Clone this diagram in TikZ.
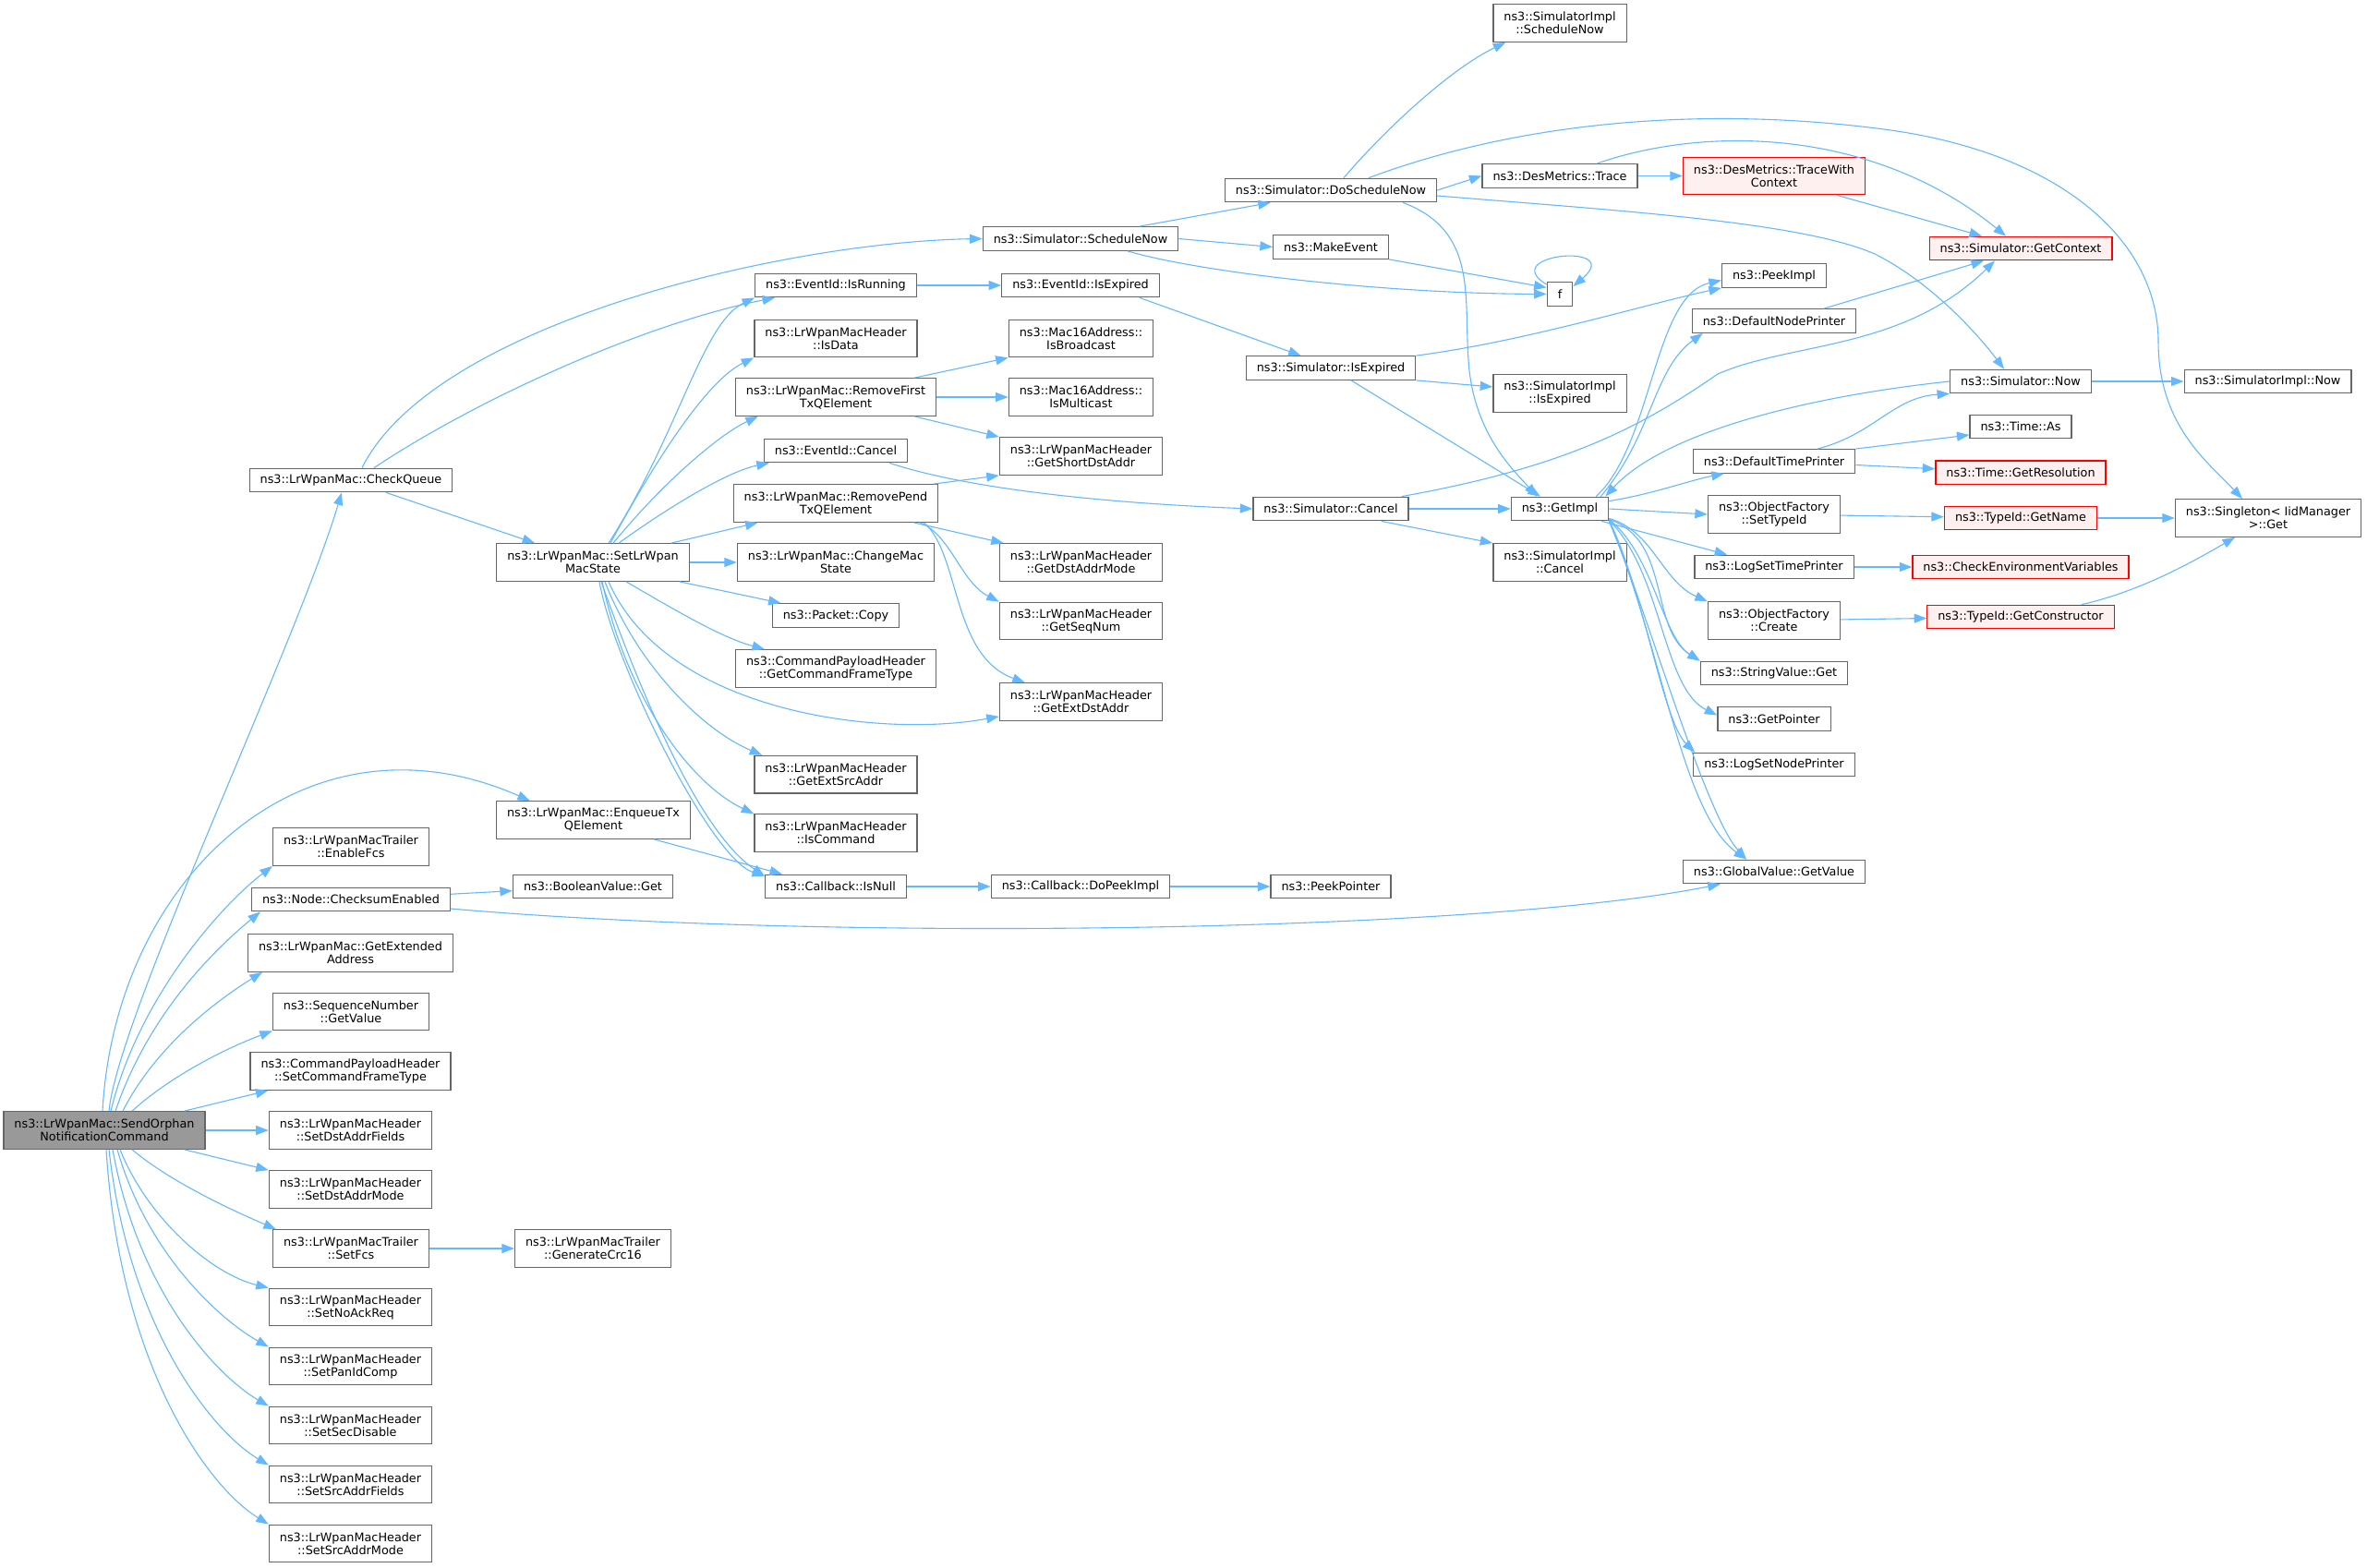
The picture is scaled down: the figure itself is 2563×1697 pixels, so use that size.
\documentclass[tikz,border=0pt]{standalone}
\usepackage{fontspec}
\setmainfont{DejaVu Sans}
\usetikzlibrary{arrows.meta}
\definecolor{callblue}{HTML}{63B8FF}
\definecolor{boxgray}{HTML}{666666}
\definecolor{rootgray}{HTML}{999999}
\definecolor{truncfill}{HTML}{FFF0F0}
\newcommand{\fs}{\fontsize{12.8}{14}\selectfont}

\begin{document}
\begin{tikzpicture}[x=1pt,y=-1pt,
   fnbox/.style={draw=boxgray,line width=1.3pt,fill=white,font=\fs,align=center,
                 inner xsep=11.5pt,inner ysep=2pt,minimum height=25.5pt},
   fnbox2/.style={fnbox,minimum height=40.5pt},
   trunc/.style={draw=red,fill=truncfill},
   root/.style={fill=rootgray},
   callarrow/.style={callblue,line width=1.1pt,-{Triangle[length=13.5pt,width=10pt]}}]
   \useasboundingbox (0,0) rectangle (2563,1697);

   \node[fnbox2,root] (send)     at ( 113.0,1224.0) {ns3::LrWpanMac::SendOrphan\\NotificationCommand};
   \node[fnbox]       (chkq)     at ( 380.0, 520.0) {ns3::LrWpanMac::CheckQueue};
   \node[fnbox2]      (enfcs)    at ( 380.0, 917.0) {ns3::LrWpanMacTrailer\\::EnableFcs};
   \node[fnbox]       (cksum)    at ( 380.0, 974.0) {ns3::Node::ChecksumEnabled};
   \node[fnbox2]      (getext)   at ( 379.5,1032.0) {ns3::LrWpanMac::GetExtended\\Address};
   \node[fnbox2]      (seqv)     at ( 380.0,1095.5) {ns3::SequenceNumber\\::GetValue};
   \node[fnbox2]      (setcft)   at ( 379.5,1160.0) {ns3::CommandPayloadHeader\\::SetCommandFrameType};
   \node[fnbox2]      (setdaf)   at ( 379.5,1224.0) {ns3::LrWpanMacHeader\\::SetDstAddrFields};
   \node[fnbox2]      (setdam)   at ( 379.5,1288.0) {ns3::LrWpanMacHeader\\::SetDstAddrMode};
   \node[fnbox2]      (setfcs)   at ( 380.0,1352.0) {ns3::LrWpanMacTrailer\\::SetFcs};
   \node[fnbox2]      (setnoack) at ( 379.5,1415.5) {ns3::LrWpanMacHeader\\::SetNoAckReq};
   \node[fnbox2]      (setpan)   at ( 379.5,1479.5) {ns3::LrWpanMacHeader\\::SetPanIdComp};
   \node[fnbox2]      (setsec)   at ( 379.5,1543.5) {ns3::LrWpanMacHeader\\::SetSecDisable};
   \node[fnbox2]      (setsaf)   at ( 379.5,1607.5) {ns3::LrWpanMacHeader\\::SetSrcAddrFields};
   \node[fnbox2]      (setsam)   at ( 379.5,1671.5) {ns3::LrWpanMacHeader\\::SetSrcAddrMode};

   \node[fnbox2]      (setstate) at ( 642.0, 609.0) {ns3::LrWpanMac::SetLrWpan\\MacState};
   \node[fnbox2]      (enq)      at ( 642.5, 888.0) {ns3::LrWpanMac::EnqueueTx\\QElement};
   \node[fnbox]       (boolget)  at ( 642.0, 960.0) {ns3::BooleanValue::Get};
   \node[fnbox2]      (crc)      at ( 642.0,1352.0) {ns3::LrWpanMacTrailer\\::GenerateCrc16};

   \node[fnbox]       (isrun)    at ( 905.0, 309.0) {ns3::EventId::IsRunning};
   \node[fnbox2]      (isdata)   at ( 905.0, 366.5) {ns3::LrWpanMacHeader\\::IsData};
   \node[fnbox2]      (rmfirst)  at ( 905.0, 430.0) {ns3::LrWpanMac::RemoveFirst\\TxQElement};
   \node[fnbox]       (evcancel) at ( 905.0, 488.0) {ns3::EventId::Cancel};
   \node[fnbox2]      (rmpend)   at ( 905.0, 545.0) {ns3::LrWpanMac::RemovePend\\TxQElement};
   \node[fnbox2]      (chstate)  at ( 905.0, 609.0) {ns3::LrWpanMac::ChangeMac\\State};
   \node[fnbox]       (pcopy)    at ( 905.0, 666.5) {ns3::Packet::Copy};
   \node[fnbox2]      (getcft)   at ( 905.0, 724.0) {ns3::CommandPayloadHeader\\::GetCommandFrameType};
   \node[fnbox2]      (getesa)   at ( 905.0, 838.7) {ns3::LrWpanMacHeader\\::GetExtSrcAddr};
   \node[fnbox2]      (iscmd)    at ( 905.0, 902.0) {ns3::LrWpanMacHeader\\::IsCommand};
   \node[fnbox]       (isnull)   at ( 905.0, 960.0) {ns3::Callback::IsNull};

   \node[fnbox]       (schnow)   at (1170.0, 258.5) {ns3::Simulator::ScheduleNow};
   \node[fnbox]       (evexp)    at (1170.0, 309.0) {ns3::EventId::IsExpired};
   \node[fnbox2]      (isbc)     at (1170.5, 366.5) {ns3::Mac16Address::\\IsBroadcast};
   \node[fnbox2]      (ismc)     at (1170.5, 430.0) {ns3::Mac16Address::\\IsMulticast};
   \node[fnbox2]      (getsda)   at (1170.5, 494.0) {ns3::LrWpanMacHeader\\::GetShortDstAddr};
   \node[fnbox2]      (getdam)   at (1170.5, 609.0) {ns3::LrWpanMacHeader\\::GetDstAddrMode};
   \node[fnbox2]      (getseq)   at (1170.5, 672.5) {ns3::LrWpanMacHeader\\::GetSeqNum};
   \node[fnbox2]      (geteda)   at (1170.5, 760.0) {ns3::LrWpanMacHeader\\::GetExtDstAddr};
   \node[fnbox]       (dopeek)   at (1170.0, 960.0) {ns3::Callback::DoPeekImpl};

   \node[fnbox]       (dosch)    at (1441.0, 206.0) {ns3::Simulator::DoScheduleNow};
   \node[fnbox]       (mkev)     at (1441.0, 267.5) {ns3::MakeEvent};
   \node[fnbox]       (simexp)   at (1441.0, 398.5) {ns3::Simulator::IsExpired};
   \node[fnbox]       (simcancel)at (1441.0, 551.0) {ns3::Simulator::Cancel};
   \node[fnbox]       (peekptr)  at (1441.0, 960.0) {ns3::PeekPointer};

   \node[fnbox2]      (implsch)  at (1689.0,  25.0) {ns3::SimulatorImpl\\::ScheduleNow};
   \node[fnbox]       (trace)    at (1689.0, 190.5) {ns3::DesMetrics::Trace};
   \node[fnbox]       (f)        at (1689.0, 318.4) {f};
   \node[fnbox2]      (implexp)  at (1689.0, 426.0) {ns3::SimulatorImpl\\::IsExpired};
   \node[fnbox]       (getimpl)  at (1689.0, 551.0) {ns3::GetImpl};
   \node[fnbox2]      (implcancel) at (1689.0, 609.0) {ns3::SimulatorImpl\\::Cancel};

   \node[fnbox2,trunc](trwc)     at (1921.0, 190.5) {ns3::DesMetrics::TraceWith\\Context};
   \node[fnbox]       (peek)     at (1921.0, 298.5) {ns3::PeekImpl};
   \node[fnbox]       (dnp)      at (1921.0, 347.5) {ns3::DefaultNodePrinter};
   \node[fnbox]       (dtp)      at (1921.0, 499.5) {ns3::DefaultTimePrinter};
   \node[fnbox2]      (settid)   at (1921.0, 557.0) {ns3::ObjectFactory\\::SetTypeId};
   \node[fnbox]       (logtp)    at (1921.0, 614.0) {ns3::LogSetTimePrinter};
   \node[fnbox2]      (create)   at (1921.0, 672.0) {ns3::ObjectFactory\\::Create};
   \node[fnbox]       (strget)   at (1921.0, 729.0) {ns3::StringValue::Get};
   \node[fnbox]       (getptr)   at (1921.0, 778.5) {ns3::GetPointer};
   \node[fnbox]       (lognp)    at (1921.0, 828.0) {ns3::LogSetNodePrinter};
   \node[fnbox]       (gvget)    at (1921.0, 944.0) {ns3::GlobalValue::GetValue};

   \node[fnbox,trunc] (getctx)   at (2188.0, 269.0) {ns3::Simulator::GetContext};
   \node[fnbox]       (now)      at (2188.0, 413.0) {ns3::Simulator::Now};
   \node[fnbox]       (timeas)   at (2188.0, 462.0) {ns3::Time::As};
   \node[fnbox,trunc] (getres)   at (2188.0, 511.7) {ns3::Time::GetResolution};
   \node[fnbox,trunc] (getname)  at (2188.0, 561.0) {ns3::TypeId::GetName};
   \node[fnbox,trunc] (checkenv) at (2188.0, 614.0) {ns3::CheckEnvironmentVariables};
   \node[fnbox,trunc] (getctor)  at (2188.0, 668.0) {ns3::TypeId::GetConstructor};

   \node[fnbox]       (implnow)  at (2455.5, 413.0) {ns3::SimulatorImpl::Now};
   \node[fnbox2]      (singleton)at (2456.0, 561.0) {ns3::Singleton\textless{} IidManager\\\textgreater::Get};

   \draw[callarrow] ([xshift= 5pt]send.north) .. controls ( 128,1100) and ( 320, 700) .. ([xshift=-10pt]chkq.south);
   \draw[callarrow] ([xshift=-2pt]send.north) .. controls ( 125, 950) and ( 330, 760) .. ([xshift=37pt]enq.north west);
   \draw[callarrow] ([xshift= 7pt]send.north) .. controls ( 150,1080) and ( 240, 980) .. (enfcs.south west);
   \draw[callarrow] ([xshift=12pt]send.north) .. controls ( 160,1100) and ( 230,1030) .. ([xshift=10pt]cksum.south west);
   \draw[callarrow] ([xshift=20pt]send.north) .. controls ( 170,1130) and ( 240,1080) .. ([xshift=16pt]getext.south west);
   \draw[callarrow] ([xshift=30pt]send.north) .. controls ( 185,1165) and ( 245,1135) .. (seqv.south west);
   \draw[callarrow] ([xshift=-23pt]send.north east) -- ([xshift=20pt]setcft.south west);
   \draw[callarrow] (send.east) -- (setdaf.west);
   \draw[callarrow] ([xshift=-23pt]send.south east) -- (setdam.north west);
   \draw[callarrow] ([xshift=30pt]send.south) .. controls ( 185,1280) and ( 250,1310) .. ([xshift=4pt]setfcs.north west);
   \draw[callarrow] ([xshift=17pt]send.south) .. controls ( 160,1320) and ( 230,1380) .. (setnoack.north west);
   \draw[callarrow] ([xshift=14pt]send.south) .. controls ( 160,1360) and ( 240,1430) .. (setpan.north west);
   \draw[callarrow] ([xshift= 9pt]send.south) .. controls ( 150,1400) and ( 235,1490) .. (setsec.north west);
   \draw[callarrow] ([xshift= 5pt]send.south) .. controls ( 140,1440) and ( 230,1550) .. (setsaf.north west);
   \draw[callarrow] ([xshift= 2pt]send.south) .. controls ( 130,1480) and ( 225,1610) .. (setsam.north west);

   \draw[callarrow] ([xshift=12pt]chkq.north) .. controls ( 470, 350) and ( 850, 262) .. (schnow.west);
   \draw[callarrow] ([xshift=25pt]chkq.north) .. controls ( 520, 430) and ( 700, 350) .. ([xshift=22pt]isrun.south west);
   \draw[callarrow] ([xshift=38pt]chkq.south) -- ([xshift=42pt]setstate.north west);

   \draw[callarrow] ([xshift=17pt]setstate.north) .. controls ( 735, 470) and ( 760, 350) .. (isrun.south west);
   \draw[callarrow] ([xshift=19pt]setstate.north) .. controls ( 720, 480) and ( 770, 410) .. (isdata.south west);
   \draw[callarrow] ([xshift=22pt]setstate.north) .. controls ( 720, 520) and ( 780, 470) .. ([xshift=25pt]rmfirst.south west);
   \draw[callarrow] ([xshift=28pt]setstate.north) .. controls ( 730, 545) and ( 790, 510) .. ([xshift=6pt]evcancel.south west);
   \draw[callarrow] ([xshift=-20pt]setstate.north east) -- ([xshift=27pt]rmpend.south west);
   \draw[callarrow] (setstate.east) -- (chstate.west);
   \draw[callarrow] ([xshift=-11pt]setstate.south east) -- ([xshift=10pt]pcopy.north west);
   \draw[callarrow] ([xshift=36pt]setstate.south) .. controls ( 730, 660) and ( 780, 690) .. ([xshift=32pt]getcft.north west);
   \draw[callarrow] ([xshift=17pt]setstate.south) .. controls ( 720, 770) and ( 950, 800) .. ([yshift=5pt]geteda.south west);
   \draw[callarrow] ([xshift=13pt]setstate.south) .. controls ( 690, 720) and ( 760, 790) .. ([xshift=9pt]getesa.north west);
   \draw[callarrow] ([xshift=10pt]setstate.south) .. controls ( 680, 760) and ( 750, 850) .. (iscmd.north west);
   \draw[callarrow] ([xshift= 7pt]setstate.south) .. controls ( 665, 720) and ( 770, 930) .. ([yshift=-2pt]isnull.north west);
   \draw[callarrow] ([xshift= 9pt]setstate.south) .. controls ( 690, 740) and ( 755, 900) .. ([yshift=-2pt]isnull.north west);

   \draw[callarrow] ([xshift=-40pt]enq.south east) -- ([xshift=19pt]isnull.north west);
   \draw[callarrow] (cksum) -- (boolget);
   \draw[callarrow] ([yshift=-10pt]cksum.east) .. controls ( 900,1020) and (1600,1010) .. ([xshift=41pt]gvget.south west);
   \draw[callarrow] (isnull) -- (dopeek);
   \draw[callarrow] (dopeek) -- (peekptr);
   \draw[callarrow] (setfcs) -- (crc);

   \draw[callarrow] ([xshift=64pt]schnow.north) -- ([xshift=50pt]dosch.south west);
   \draw[callarrow] (schnow.east) -- (mkev.west);
   \draw[callarrow] ([xshift=51pt]schnow.south) .. controls (1300, 295) and (1500, 318) .. (f.west);
   \draw[callarrow] (isrun.east) -- (evexp.west);
   \draw[callarrow] ([xshift=-22pt]evexp.south east) -- ([xshift=60pt]simexp.north west);
   \draw[callarrow] ([xshift=-24pt]rmfirst.north east) -- (isbc.south west);
   \draw[callarrow] (rmfirst.east) -- (ismc.west);
   \draw[callarrow] ([xshift=-24pt]rmfirst.south east) -- (getsda.north west);
   \draw[callarrow] ([xshift=-6pt]rmpend.north east) -- (getsda.south west);
   \draw[callarrow] ([xshift=-27pt]rmpend.south east) -- ([xshift=5pt]getdam.north west);
   \draw[callarrow] ([xshift=-20pt]rmpend.south east) .. controls (1030, 580) and (1040, 630) .. (getseq.north west);
   \draw[callarrow] ([xshift=-16pt]rmpend.south east) .. controls (1040, 600) and (1030, 710) .. ([xshift=28pt]geteda.north west);
   \draw[callarrow] ([xshift=-20pt]evcancel.south east) .. controls (1050, 530) and (1200, 545) .. (simcancel.west);

   \draw[callarrow] ([xshift=14pt]dosch.north) .. controls (1500, 140) and (1570,  75) .. ([xshift=14pt]implsch.south west);
   \draw[callarrow] (dosch.east) -- (trace.west);
   \draw[callarrow] ([xshift=41pt]dosch.north) .. controls (1650, 130) and (1850, 115) .. (2040, 140)
                    .. controls (2230, 165) and (2337, 260) .. (2337, 370)
                    .. controls (2337, 460) and (2390, 500) .. ([xshift=-28pt]singleton.north);
   \draw[callarrow] ([yshift=-6pt]dosch.east) .. controls (1750, 228) and (1950, 240) .. (2030, 275)
                    .. controls (2090, 305) and (2140, 360) .. ([xshift=-18pt]now.north);
   \draw[callarrow] ([xshift=-37pt]dosch.south east) .. controls (1600, 250) and (1585, 320) .. (1590, 390)
                    .. controls (1595, 470) and (1640, 510) .. ([xshift=-25pt]getimpl.north);
   \draw[callarrow] (trace) -- (trwc);
   \draw[callarrow] ([xshift=40pt]trace.north) .. controls (1850, 135) and (2030, 140) .. ([xshift=-16pt]getctx.north);
   \draw[callarrow] ([xshift=-31pt]trwc.south east) -- ([xshift=-42pt]getctx.north);
   \draw[callarrow] (mkev.south east) -- ([yshift=7pt]f.west);
   \draw[callarrow] ([yshift=-3pt]f.north west) .. controls (1620, 275) and (1760, 262) .. ([yshift=-5pt]f.north east);

   \draw[callarrow] (simexp.south east) -- ([yshift=7pt]implexp.west);
   \draw[callarrow] ([xshift=22pt]simexp.south) -- ([xshift=-21pt]getimpl.north);
   \draw[callarrow] (simexp.north east) .. controls (1650, 370) and (1780, 330) .. (peek.south west);
   \draw[callarrow] (simcancel) -- (getimpl);
   \draw[callarrow] ([xshift=-30pt]simcancel.south east) -- (implcancel.north west);
   \draw[callarrow] ([xshift=-8pt]simcancel.north east) .. controls (1700, 505) and (1780, 460) .. (1860, 405)
                    .. controls (1940, 370) and (2060, 380) .. ([xshift=-28pt]getctx.south);

   \draw[callarrow] ([xshift=-14pt]getimpl.north east) .. controls (1790, 480) and (1790, 320) .. ([yshift=-5pt]peek.west);
   \draw[callarrow] ([xshift=-9pt]getimpl.north east) .. controls (1790, 470) and (1790, 400) .. ([xshift=12pt]dnp.south west);
   \draw[callarrow] (now.west) .. controls (1950, 430) and (1800, 470) .. ([xshift=-4pt]getimpl.north east);
   \draw[callarrow] ([yshift=-5pt]getimpl.north east) .. controls (1790, 535) and (1830, 520) .. ([xshift=34pt]dtp.south west);
   \draw[callarrow] (getimpl.east) -- (settid.west);
   \draw[callarrow] ([xshift=-8pt]getimpl.south east) -- ([xshift=36pt]logtp.north west);
   \draw[callarrow] ([yshift=3pt]getimpl.south east) .. controls (1790, 575) and (1800, 630) .. (create.north west);
   \draw[callarrow] ([yshift=2pt]getimpl.south east) .. controls (1790, 600) and (1800, 690) .. (strget.north west);
   \draw[callarrow] ([yshift=2pt]getimpl.south east) .. controls (1810, 585) and (1785, 680) .. (strget.north west);
   \draw[callarrow] ([yshift=1pt]getimpl.south east) .. controls (1800, 620) and (1800, 745) .. ([yshift=4pt]getptr.west);
   \draw[callarrow] ([yshift=1pt]getimpl.south east) .. controls (1780, 640) and (1800, 780) .. ([xshift=2pt]lognp.north west);
   \draw[callarrow] (getimpl.south east) .. controls (1800, 700) and (1820, 880) .. ([xshift=-30pt]gvget.north);
   \draw[callarrow] (getimpl.south east) .. controls (1780, 650) and (1845, 880) .. ([xshift=-30pt]gvget.north);

   \draw[callarrow] ([xshift=47pt]dtp.north) .. controls (2030, 470) and (2050, 430) .. (now.south west);
   \draw[callarrow] (dtp.north east) -- ([yshift=-9pt]timeas.west);
   \draw[callarrow] ([yshift=-4pt]dtp.east) -- ([yshift=4pt]getres.west);
   \draw[callarrow] ([xshift=54pt]dnp.north) -- ([xshift=-40pt]getctx.south);
   \draw[callarrow] (settid) -- (getname);
   \draw[callarrow] (logtp) -- (checkenv);
   \draw[callarrow] (create) -- (getctor);
   \draw[callarrow] (getname) -- (singleton);
   \draw[callarrow] ([xshift=-36pt]getctor.north east) .. controls (2320, 640) and (2380, 605) .. ([xshift=-36pt]singleton.south);
   \draw[callarrow] (now) -- (implnow);
\end{tikzpicture}
\end{document}
